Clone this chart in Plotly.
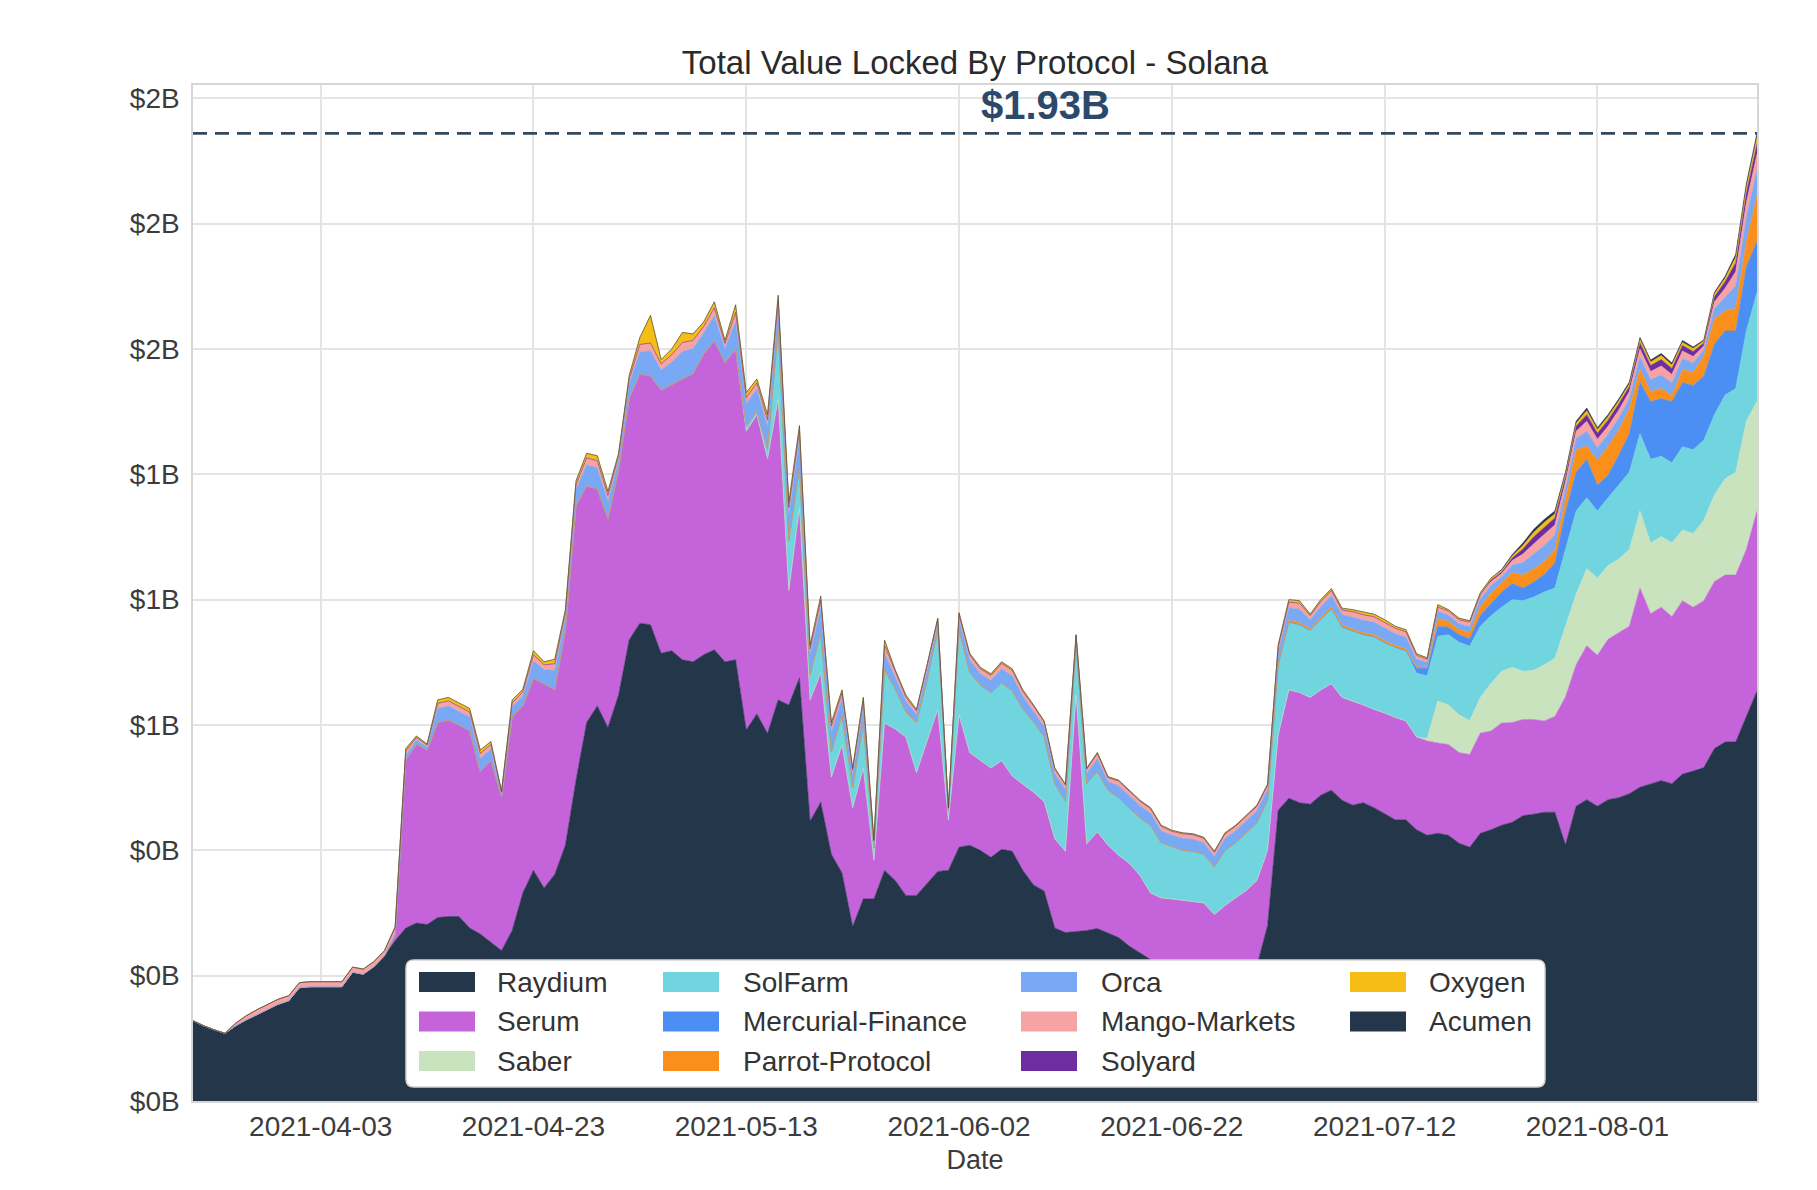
import pandas as pd
import plotly.graph_objects as go

# ---------------- data (values in $ millions, one value per day) ----------------
START_DATE = "2021-03-22"

RAYDIUM = [160, 150, 142, 135, 150, 162, 172, 183, 193, 200,
           226, 228, 228, 228, 228, 257, 253, 268, 290, 320,
           345, 355, 352, 366, 368, 368, 345, 333, 316, 300,
           340, 415, 460, 425, 452, 510, 640, 755, 788, 745,
           810, 920, 953, 950, 893, 898, 880, 876, 890, 900,
           876, 880, 740, 772, 733, 800, 790, 844, 558, 596,
           492, 455, 348, 403, 403, 460, 440, 410, 410, 435,
           458, 460, 506, 510, 500, 486, 502, 498, 460, 431,
           419, 345, 336, 338, 340, 344, 335, 326, 309, 295,
           282, 270, 260, 255, 250, 245, 240, 245, 250, 260,
           270, 350, 580, 604, 595, 592, 610, 620, 600, 590,
           595, 585, 573, 561, 561, 541, 530, 534, 530, 514,
           506, 534, 541, 550, 556, 569, 572, 576, 576, 511,
           588, 601, 588, 601, 605, 613, 626, 633, 639, 633,
           652, 658, 665, 703, 716, 716, 767, 818]

SERUM = [0, 0, 0, 0, 0, 0, 0, 0, 0, 0,
         0, 0, 0, 0, 0, 0, 0, 0, 0, 10,
         335, 357, 348, 389, 392, 382, 394, 324, 363, 307,
         426, 373, 383, 407, 369, 430, 548, 472, 433, 416,
         449, 482, 497, 496, 525, 531, 560, 575, 600, 616,
         597, 620, 596, 597, 548, 600, 228, 339, 242, 258,
         154, 255, 237, 261, 77, 294, 302, 316, 245, 285,
         323, 100, 264, 185, 180, 178, 177, 150, 172, 185,
         178, 178, 162, 472, 173, 193, 175, 164, 165, 155,
         133, 135, 143, 145, 148, 150, 132, 145, 155, 160,
         170, 150, 150, 216, 220, 213, 210, 212, 205, 208,
         195, 196, 201, 204, 197, 185, 188, 180, 181, 181,
         185, 200, 197, 204, 199, 192, 189, 182, 191, 295,
         282, 307, 301, 320, 329, 334, 397, 339, 346, 333,
         346, 327, 333, 333, 333, 333, 333, 359]

SABER = [0] * 116 + [5, 84, 79, 75, 68, 71, 95, 103, 110, 96,
                     98, 112, 116, 141, 141, 154, 154, 147, 147, 153,
                     154, 141, 141, 147, 141, 147, 160, 173, 192, 205,
                     256, 218]

SOLFARM = [0] * 52 + [10, 6, 20, 140, 100, 80, 50, 80,
                      50, 60, 40, 90, 25, 106, 80, 50, 100, 120,
                      160, 18, 170, 160, 150, 150, 155, 170, 150, 140,
                      130, 110, 100, 100, 120, 120, 110, 115, 110, 115,
                      135, 110, 105, 100, 100, 97, 95, 110, 110, 115,
                      115, 100, 140, 135, 135, 134, 140, 150, 140, 140,
                      140, 145, 140, 140, 140, 127, 125, 129, 140, 145,
                      148, 142, 135, 128, 135, 141, 146, 145, 140, 153,
                      166, 141, 134, 135, 147, 154, 154, 167, 160, 160,
                      166, 167, 160, 160, 167, 167, 180, 218]

MERCURIAL = [0] * 115 + [10, 15, 20, 15, 15, 15, 22, 25, 30, 32,
                         25, 30, 35, 50, 75, 77, 77, 51, 45, 60,
                         77, 103, 115, 115, 122, 128, 128, 128, 141, 128,
                         115, 128, 102]

PARROT = [0] * 102 + [4, 4, 4, 3, 4, 4, 4, 4, 4, 4, 4, 4, 4, 3, 2,
                      15, 12, 10, 12, 18, 20, 18, 22, 26, 26,
                      26, 26, 26, 45, 26, 50, 58, 50, 50, 26,
                      20, 20, 12, 26, 26, 40, 50, 40, 45, 50,
                      90]

ORCA = [0] * 19 + [5,
                   10, 8, 6, 28, 28, 27, 27, 26, 23, 6,
                   20, 20, 35, 28, 38, 25, 32, 42, 42, 35,
                   20, 28, 45, 50, 40, 45, 55, 50, 42, 50,
                   28, 55, 45, 45, 45, 45, 50, 60, 40, 50,
                   40, 32, 25, 32, 10, 33, 25, 22, 16, 18,
                   12, 4, 20, 25, 22, 25, 28, 30, 25, 22,
                   20, 20, 23, 12, 20, 26, 17, 24, 25, 24,
                   24, 24, 22, 24, 24, 23, 21, 24, 24, 24,
                   24, 22, 22, 25, 27, 18, 22, 22, 21, 23,
                   25, 25, 25, 23, 23, 15, 10, 15, 12, 12,
                   12, 15, 15, 12, 15, 25, 30, 32, 30, 20,
                   22, 30, 25, 24, 24, 20, 24, 24, 27, 25,
                   22, 19, 12, 20, 27, 45, 48, 52]

MANGO = [0] * 4 + [5, 8, 10, 10, 10, 10, 10, 10, 10, 10, 10, 10, 10, 10, 10, 10,
                   8, 5, 4, 10, 10, 10, 10, 10, 9, 3,
                   8, 8, 12, 10, 13, 9, 10, 14, 14, 12,
                   8, 10, 14, 16, 12, 15, 18, 16, 13, 16,
                   10, 18, 12, 12, 13, 12, 16, 14, 12, 15,
                   12, 12, 10, 12, 4, 16, 9, 8, 7, 8,
                   7, 2, 10, 10, 10, 10, 11, 11, 10, 10,
                   9, 9, 9, 6, 9, 10, 8, 9, 9, 9,
                   9, 9, 8, 9, 9, 9, 8, 9, 9, 9,
                   9, 8, 10, 11, 12, 8, 10, 10, 9, 11,
                   11, 11, 12, 11, 11, 8, 6, 8, 8, 8,
                   9, 8, 8, 7, 9, 17, 20, 22, 20, 14,
                   15, 20, 17, 16, 16, 14, 16, 16, 18, 17,
                   15, 13, 8, 14, 18, 28, 30, 32]

SOLYARD = [0] * 122 + [3, 3, 5, 10, 14, 14, 14, 10,
                       10, 13, 12, 12, 12, 10, 12, 12, 13, 12,
                       11, 10, 6, 10, 13, 18, 19, 20]

OXYGEN = [0] * 19 + [3,
                     5, 3, 2, 7, 7, 7, 7, 7, 6, 2,
                     6, 5, 8, 6, 9, 6, 7, 9, 10, 8,
                     5, 7, 14, 55, 9, 11, 20, 13, 9, 12,
                     6, 15, 10, 8, 10, 10, 10, 10, 7, 8,
                     7, 6, 4, 7, 1, 10, 4, 4, 3, 4,
                     3, 1, 4, 3, 3, 3, 3, 3, 3, 2,
                     2, 2, 2, 2, 2, 2, 2, 2, 2, 2,
                     2, 2, 2, 2, 2, 2, 2, 2, 2, 2,
                     2, 2, 4, 5, 5, 3, 4, 4, 4, 4,
                     5, 5, 5, 4, 4, 3, 3, 5, 3, 3,
                     3, 4, 4, 3, 4, 7, 9, 10, 8, 6,
                     6, 8, 7, 7, 6, 5, 7, 7, 8, 7,
                     6, 6, 4, 6, 7, 11, 12, 13]

ACUMEN = [0] * 123 + [2, 3, 5, 6, 6, 6, 4,
                      4, 5, 4, 4, 4, 4, 4, 4, 4, 4,
                      4, 3, 2, 3, 4, 6, 7, 8]

SERIES_NAMES = ["Raydium", "Serum", "Saber", "SolFarm", "Mercurial-Finance",
                "Parrot-Protocol", "Orca", "Mango-Markets", "Solyard", "Oxygen", "Acumen"]
SERIES_VALUES = [RAYDIUM, SERUM, SABER, SOLFARM, MERCURIAL,
                 PARROT, ORCA, MANGO, SOLYARD, OXYGEN, ACUMEN]
COLORS = ["#24364a", "#c564da", "#c9e3bf", "#70d5df", "#4b8ff5",
          "#fb8f1c", "#79a9f5", "#f8a3a3", "#6c2ea0", "#f6bd16", "#24364a"]

X_TICKS = ["2021-04-03", "2021-04-23", "2021-05-13", "2021-06-02",
           "2021-06-22", "2021-07-12", "2021-08-01"]
Y_TICK_VALUES = [0, 250, 500, 750, 1000, 1250, 1500, 1750, 2000]
Y_TICK_TEXT = ["$0B", "$0B", "$0B", "$1B", "$1B", "$1B", "$2B", "$2B", "$2B"]

TITLE = "Total Value Locked By Protocol - Solana"
FONT = "Liberation Sans, Arial, Helvetica, sans-serif"

# ---------------- figure ----------------
dates = pd.date_range(START_DATE, periods=len(RAYDIUM), freq="D")
n = len(RAYDIUM)
for v in SERIES_VALUES:
    assert len(v) == n, len(v)

totals = [sum(v[i] for v in SERIES_VALUES) for i in range(n)]
total_last = totals[-1]
y_max = max(totals) * 1.05

fig = go.Figure()
for name, vals, col in zip(SERIES_NAMES, SERIES_VALUES, COLORS):
    fig.add_trace(go.Scatter(
        x=dates, y=vals, name=name, stackgroup="tvl", mode="lines",
        line=dict(width=0.6, color=col), fillcolor=col,
        showlegend=False, hoverinfo="skip"))

# layout geometry (pixels)
W_FIG, H_FIG = 1817, 1190
ML, MR, MT, MB = 193, 60, 85, 89
PW = W_FIG - ML - MR
PH = H_FIG - MT - MB


def px_x(px):
    return (px - ML) / PW


def px_y(py):
    return (H_FIG - MB - py) / PH


shapes = []
annotations = []

# dashed line at the latest total
shapes.append(dict(type="line", xref="paper", yref="y", x0=0, x1=1,
                   y0=total_last, y1=total_last,
                   line=dict(color="#34495e", width=2.6, dash="14px,8px"),
                   layer="above"))
annotations.append(dict(xref="paper", yref="y", x=px_x(1045), y=total_last,
                        text=f"<b>${total_last / 1000:.2f}B</b>", showarrow=False,
                        yanchor="bottom", xanchor="center", yshift=4,
                        font=dict(family=FONT, size=40, color="#2b4a6b")))

# manual legend (column-major, 4 columns x 3 rows)
box_x0, box_x1, box_y0, box_y1 = 406, 1545, 960, 1087
r = 8
bx0, bx1 = px_x(box_x0), px_x(box_x1)
by0, by1 = px_y(box_y1), px_y(box_y0)
rx, ry = r / PW, r / PH
path = (f"M {bx0 + rx},{by0} L {bx1 - rx},{by0} Q {bx1},{by0} {bx1},{by0 + ry} "
        f"L {bx1},{by1 - ry} Q {bx1},{by1} {bx1 - rx},{by1} "
        f"L {bx0 + rx},{by1} Q {bx0},{by1} {bx0},{by1 - ry} "
        f"L {bx0},{by0 + ry} Q {bx0},{by0} {bx0 + rx},{by0} Z")
shapes.append(dict(type="path", xref="paper", yref="paper", path=path,
                   fillcolor="white", line=dict(color="#d4d4d4", width=1.5),
                   layer="above"))
col_swatch_x = [419, 663, 1021, 1350]
col_text_x = [495, 741, 1099, 1427]
row_y = [982, 1021.5, 1061]
sw_w, sw_h = 56, 20
for k, (name, col) in enumerate(zip(SERIES_NAMES, COLORS)):
    c, rr = k // 3, k % 3
    sx, sy = col_swatch_x[c], row_y[rr]
    shapes.append(dict(type="rect", xref="paper", yref="paper",
                       x0=px_x(sx), x1=px_x(sx + sw_w),
                       y0=px_y(sy + sw_h / 2), y1=px_y(sy - sw_h / 2),
                       fillcolor=col, line=dict(width=0), layer="above"))
    annotations.append(dict(xref="paper", yref="paper", x=px_x(col_text_x[c]),
                            y=px_y(sy), text=name, showarrow=False,
                            xanchor="left", yanchor="middle",
                            font=dict(family=FONT, size=28, color="#333333")))

fig.update_layout(
    width=W_FIG, height=H_FIG,
    margin=dict(l=ML, r=MR, t=MT, b=MB),
    paper_bgcolor="white", plot_bgcolor="white",
    font=dict(family=FONT, size=28, color="#3c3c3c"),
    title=dict(text=TITLE, x=0.5, xref="paper", xanchor="center", y=1 - 62 / H_FIG,
               yanchor="middle", font=dict(family=FONT, size=33, color="#2a2a2a")),
    shapes=shapes, annotations=annotations,
    showlegend=False,
)
fig.update_xaxes(
    type="date", range=[dates[0], dates[-1]],
    tickvals=X_TICKS, tickformat="%Y-%m-%d",
    tickfont=dict(family=FONT, size=28, color="#3c3c3c"),
    showgrid=True, gridcolor="#e4e4e4", gridwidth=1.5,
    showline=True, linecolor="#d6d6d6", linewidth=1.5, mirror=True,
    ticks="", ticklabelstandoff=0, zeroline=False,
    title=dict(text="Date", standoff=9, font=dict(family=FONT, size=27, color="#3c3c3c")),
)
fig.update_yaxes(
    range=[0, y_max], tickvals=Y_TICK_VALUES, ticktext=Y_TICK_TEXT,
    tickfont=dict(family=FONT, size=28, color="#3c3c3c"),
    showgrid=True, gridcolor="#e4e4e4", gridwidth=1.5,
    showline=True, linecolor="#d6d6d6", linewidth=1.5, mirror=True,
    ticks="", ticklabelstandoff=6, zeroline=False,
)

fig.write_html("out.html")
